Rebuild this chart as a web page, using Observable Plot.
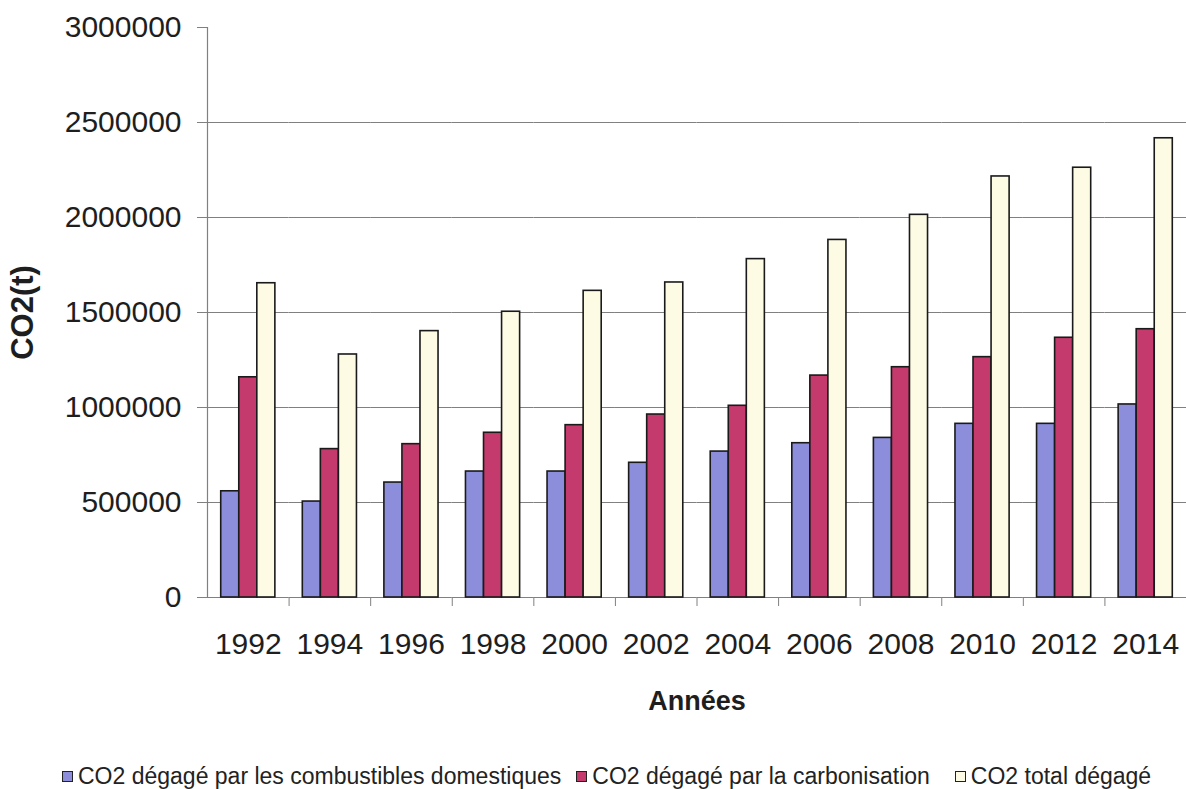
<!DOCTYPE html>
<html>
<head>
<meta charset="utf-8">
<script src="https://cdn.jsdelivr.net/npm/d3@7"></script>
<script src="https://cdn.jsdelivr.net/npm/@observablehq/plot@0.6"></script>
<style>
  html, body { margin: 0; padding: 0; background: #fff; }
  body { width: 1186px; height: 789px; overflow: hidden; font-family: "Liberation Sans", Arial, sans-serif; color: #222; }
  #chart svg { display: block; }
  #chart [aria-label$="-axis label"] text { font-weight: bold; }
  #chart [aria-label="fx-axis label"] text { font-size: 27px; }
  #chart [aria-label="y-axis label"] text { font-size: 31px; }
  #legend { display: flex; align-items: center; height: 30px; margin-top: 41px; padding-left: 62px; font-size: 23px; white-space: nowrap; color: #222; }
  #legend .item { display: flex; align-items: center; }
  #legend .sw { width: 9px; height: 9px; border: 1px solid #222; margin-right: 5px; box-sizing: content-box; }
</style>
</head>
<body>
<div id="chart"></div>
<div id="legend"></div>
<script>
const years = ["1992","1994","1996","1998","2000","2002","2004","2006","2008","2010","2012","2014"];
const domestiques   = [559000, 505000, 605000, 663000, 663000, 709000, 768000, 812000, 840000, 914000, 914000, 1016000];
const carbonisation = [1159000, 781000, 807000, 867000, 907000, 963000, 1009000, 1168000, 1212000, 1265000, 1367000, 1412000];
const total         = [1654000, 1279000, 1402000, 1504000, 1614000, 1658000, 1781000, 1882000, 2014000, 2216000, 2262000, 2417000];
const seriesNames = [
  "CO2 dégagé par les combustibles domestiques",
  "CO2 dégagé par la carbonisation",
  "CO2 total dégagé"
];
const seriesColors = ["#8c8edb", "#c43a6c", "#fdfbe4"];
const yTicks = [0, 500000, 1000000, 1500000, 2000000, 2500000, 3000000];

const seriesValues = [domestiques, carbonisation, total];
const rows = [];
years.forEach((yr, i) => {
  seriesNames.forEach((s, j) => rows.push({year: yr, series: s, value: seriesValues[j][i]}));
});

const W = 1186, ML = 207, MR = 0;
const step = (W - ML - MR) / years.length;
const gridTicks = yTicks.filter(d => d < d3.max(yTicks));

const chart = Plot.plot({
  width: W,
  height: 720,
  marginLeft: ML,
  marginRight: MR,
  marginTop: 27,
  marginBottom: 123,
  style: { fontFamily: "'Liberation Sans', Arial, sans-serif", color: "#1e1e1e", background: "transparent", overflow: "visible" },
  fx: { domain: years, paddingInner: 0, paddingOuter: 0, round: false },
  x: { domain: seriesNames, paddingInner: 0, paddingOuter: 0.76, round: false, axis: null },
  y: { domain: [0, 3000000] },
  color: { domain: seriesNames, range: seriesColors },
  marks: [
    Plot.gridY(gridTicks, { stroke: "#808080", strokeOpacity: 1, strokeWidth: 1.2 }),
    Plot.frame({ anchor: "left", facetAnchor: "left", stroke: "#808080", strokeWidth: 1.2 }),
    Plot.barY(rows, { fx: "year", x: "series", y: "value", fill: "series", stroke: "#1a1a1a", strokeWidth: 1.6, inset: 0 }),
    Plot.axisY(yTicks, {
      tickSize: 10, tickPadding: 16, fontSize: 30, stroke: "#808080",
      tickFormat: d => String(d),
      label: "CO2(t)", labelArrow: "none", labelAnchor: "center", labelOffset: 197
    }),
    Plot.axisFx({ anchor: "bottom", tickSize: 0, tickPadding: 35, fontSize: 30, label: "Années", labelArrow: "none", labelAnchor: "center", labelOffset: 112 }),
    Plot.axisFx({ anchor: "bottom", tickSize: 9, text: null, label: null, dx: step / 2, stroke: "#808080" })
  ]
});
document.getElementById("chart").appendChild(chart);

const legend = document.getElementById("legend");
const gaps = [15, 25, 0];
seriesNames.forEach((s, i) => {
  const item = document.createElement("div");
  item.className = "item";
  item.style.marginRight = gaps[i] + "px";
  const sw = document.createElement("div");
  sw.className = "sw";
  sw.style.background = seriesColors[i];
  const t = document.createElement("span");
  t.textContent = s;
  item.appendChild(sw);
  item.appendChild(t);
  legend.appendChild(item);
});
</script>
</body>
</html>
